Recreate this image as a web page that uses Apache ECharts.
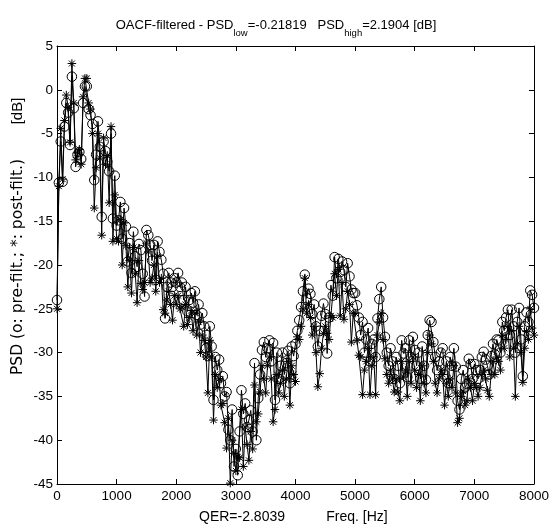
<!DOCTYPE html>
<html>
<head>
<meta charset="utf-8">
<script src="https://cdn.jsdelivr.net/npm/echarts@6/dist/echarts.min.js"></script>
<style>
html,body{margin:0;padding:0;background:#fff;}
#chart{width:552px;height:526px;}
</style>
</head>
<body>
<div id="chart"></div>
<script>
// Frequency bins (Hz): first bin and spacing (257 bins, 0..8000 Hz)
const binStart = 0;
const binStep = 31.25;
// PSD pre-filter (circles), dB — 16 values per 500 Hz
const psdPre = [
 -24, -10.6, -5.9, -10.5, -4.2, -1.5, -2.6, -6.3, 1.5, -2.1, -8.8, -7.4, -7.1, -7.9, -1.5, 0.4,
 0.4, -2.2, -2.9, -3.9, -10.3, -7.4, -3.6, -6.5, -14.5, -5.9, -7.0, -8.2, -9.3, -5.0, -14.7, -9.8,
 -15.5, -14.9, -12.8, -17.0, -13.5, -15.6, -19.6, -17.5, -20.9, -16.2, -19.0, -20.2, -17.6, -18.3, -21.0, -23.6,
 -16.0, -16.6, -17.7, -19.5, -17.7, -21.7, -17.3, -18.5, -19.4, -21.0, -26.1, -22.5, -20.9, -22.0, -22.5, -21.5,
 -22.0, -20.9, -22.5, -22.0, -24.0, -22.5, -25.3, -24.0, -23.2, -24.3, -23.0, -25.7, -24.5, -26.8, -25.5, -27.0,
 -29.5, -30.4, -27.0, -29.3, -35.4, -30.5, -32.0, -30.8, -33.5, -32.7, -35.0, -34.5, -38.8, -40.0, -36.5, -43.0,
 -41.0, -44.0, -39.0, -34.3, -37.0, -35.8, -38.5, -37.7, -36.6, -39.0, -31.2, -40.0, -35.2, -32.5, -29.7, -28.8,
 -30.5, -29.5, -28.6, -31.0, -28.9, -35.4, -30.0, -33.0, -31.5, -30.0, -32.5, -31.2, -29.8, -33.5, -29.3, -30.4,
 -29.0, -27.5, -26.3, -24.8, -23.0, -21.1, -23.8, -22.7, -23.3, -25.6, -24.5, -27.0, -29.3, -27.5, -25.8, -24.4,
 -25.6, -30.1, -26.0, -22.3, -23.5, -19.1, -21.5, -19.3, -20.8, -19.6, -20.6, -22.5, -19.8, -21.3, -22.8, -23.2,
 -23.2, -24.6, -26.0, -28.0, -26.5, -30.0, -28.5, -27.2, -31.0, -29.0, -28.5, -30.5, -26.1, -23.9, -22.5, -26.0,
 -28.2, -30.0, -31.5, -29.5, -31.0, -33.0, -30.5, -31.5, -33.5, -28.6, -30.1, -29.5, -32.8, -28.6, -30.5, -28.2,
 -29.7, -31.5, -30.0, -33.0, -29.3, -31.5, -33.1, -28.0, -26.3, -26.5, -28.8, -30.5, -32.0, -31.0, -30.0, -29.5,
 -32.5, -31.0, -33.5, -30.5, -31.5, -29.5, -31.6, -35.5, -36.5, -33.0, -32.0, -34.0, -33.6, -30.7, -31.3, -33.0,
 -31.3, -32.0, -33.0, -32.0, -30.5, -29.9, -30.8, -31.5, -32.5, -30.4, -29.0, -30.2, -28.5, -28.6, -30.0, -26.5,
 -27.5, -26.0, -25.1, -28.0, -25.1, -27.0, -30.0, -26.5, -24.9, -28.5, -32.7, -27.0, -25.4, -26.5, -22.9, -23.4,
 -24.9
];
// PSD post-filter (asterisks), dB — 16 values per 500 Hz
const psdPost = [
 -25, -11, -4.4, -10.2, -3.5, -0.6, -2.0, -6.0, 3.0, -1.5, -8.0, -7.2, -6.8, -8.5, -0.8, 1.3,
 1.3, -1.5, -2.2, -5.0, -13.5, -8.9, -5.0, -7.8, -16.6, -5.5, -8.5, -7.5, -12.9, -4.2, -17.3, -12.0,
 -17.0, -17.3, -14.8, -20.0, -15.2, -17.8, -22.5, -19.5, -23.2, -18.0, -21.0, -24.3, -19.5, -22.1, -22.8, -22.0,
 -17.5, -18.5, -22.0, -21.5, -20.0, -23.0, -19.0, -22.0, -21.5, -25.1, -25.5, -24.0, -23.0, -24.5, -26.3, -23.5,
 -24.5, -23.5, -25.0, -24.8, -27.0, -24.5, -26.8, -26.0, -25.2, -27.5, -25.5, -28.0, -26.5, -30.0, -28.0, -28.6,
 -30.5, -34.6, -28.6, -30.5, -37.7, -32.5, -34.0, -33.0, -36.0, -35.8, -38.0, -40.9, -37.5, -44.9, -40.0, -41.5,
 -43.5, -41.9, -42.0, -36.5, -43.0, -38.5, -40.5, -42.3, -39.0, -41.0, -33.7, -37.9, -37.0, -34.5, -31.5, -33.0,
 -34.6, -31.5, -30.5, -33.0, -37.9, -36.5, -32.5, -34.6, -33.5, -32.0, -35.0, -33.0, -31.0, -36.0, -31.5, -32.5,
 -33.3, -28.2, -28.5, -27.0, -25.0, -21.5, -25.5, -24.5, -26.0, -28.0, -27.0, -30.0, -33.9, -32.4, -29.5, -27.8,
 -27.0, -27.8, -28.5, -25.8, -26.0, -21.0, -23.5, -20.5, -25.8, -22.0, -26.2, -25.0, -23.0, -24.5, -28.8, -25.5,
 -25.5, -28.6, -30.3, -30.5, -34.8, -32.0, -31.0, -29.5, -34.8, -31.5, -30.5, -34.8, -28.0, -26.5, -25.5, -28.5,
 -30.7, -32.5, -33.5, -32.0, -33.0, -34.5, -33.0, -34.5, -35.5, -31.0, -32.8, -32.0, -35.0, -31.0, -33.5, -30.5,
 -32.0, -34.0, -32.5, -35.5, -31.5, -33.5, -34.6, -30.0, -28.0, -29.0, -31.0, -33.5, -34.6, -33.0, -32.0, -32.5,
 -36.0, -33.5, -35.0, -33.0, -34.0, -31.5, -34.6, -38.0, -37.5, -35.0, -34.4, -36.0, -35.5, -33.0, -34.0, -35.5,
 -33.5, -34.0, -35.0, -34.0, -32.5, -32.0, -33.0, -34.3, -35.0, -32.5, -31.0, -32.5, -30.5, -31.0, -32.0, -28.0,
 -29.5, -28.5, -27.0, -30.5, -27.5, -29.5, -35.0, -29.0, -27.0, -30.0, -33.4, -29.5, -27.6, -28.5, -25.0, -27.2,
 -28.0
];
// Axis ticks
const xMin = 0, xMax = 8000, xStep = 1000;
const yMin = -45, yMax = 5, yStep = 5;
// Texts
const titleMain1 = 'OACF-filtered - PSD';
const titleSub1 = 'low';
const titleMain2 = '=-0.21819   PSD';
const titleSub2 = 'high';
const titleMain3 = '=2.1904 [dB]';
const yLabel = 'PSD (o: pre-filt.; *: post-filt.)';
const yUnit = '[dB]';
const xLabelQER = 'QER=-2.8039';
const xLabelFreq = 'Freq. [Hz]';

const FONT = '"Liberation Sans", Arial, sans-serif';
const preData = psdPre.map((v, i) => [binStart + i * binStep, v]);
const postData = psdPost.map((v, i) => [binStart + i * binStep, v]);

const asterisk = 'path://M5,0L5,10M0,5L10,5M1.5,1.5L8.5,8.5M1.5,8.5L8.5,1.5';

const axisCommon = {
  type: 'value',
  axisLine: {show: true, onZero: false, lineStyle: {color: '#000', width: 1}},
  axisTick: {show: true, inside: true, length: 5, lineStyle: {color: '#000', width: 1}},
  splitLine: {show: false},
  axisLabel: {color: '#000', fontSize: 13.5, fontFamily: FONT, formatter: v => String(v)}
};

const chart = echarts.init(document.getElementById('chart'), null, {renderer: 'canvas'});
chart.setOption({
  backgroundColor: '#fff',
  animation: false,
  title: {
    left: 271, top: 12, textAlign: 'center',
    text: '{a|' + titleMain1 + '}{s|' + titleSub1 + '}{a|' + titleMain2 + '}{s|' + titleSub2 + '}{a|' + titleMain3 + '}',
    textStyle: {
      fontWeight: 'normal',
      rich: {
        a: {fontSize: 13, fontFamily: FONT, fontWeight: 'normal', color: '#000', lineHeight: 22, verticalAlign: 'top', padding: [2, 0, 0, 0]},
        s: {fontSize: 9.5, fontFamily: FONT, fontWeight: 'normal', color: '#000', lineHeight: 22, verticalAlign: 'top', padding: [11, 0, 0, 0]}
      }
    }
  },
  grid: {left: 57, right: 18, top: 46, bottom: 42, containLabel: false},
  xAxis: [
    Object.assign({}, axisCommon, {position: 'bottom', min: xMin, max: xMax, interval: xStep,
      axisLabel: Object.assign({}, axisCommon.axisLabel, {margin: 5})}),
    Object.assign({}, axisCommon, {position: 'top', min: xMin, max: xMax, interval: xStep,
      axisLabel: {show: false}})
  ],
  yAxis: [
    Object.assign({}, axisCommon, {position: 'left', min: yMin, max: yMax, interval: yStep,
      axisLabel: Object.assign({}, axisCommon.axisLabel, {margin: 4})}),
    Object.assign({}, axisCommon, {position: 'right', min: yMin, max: yMax, interval: yStep,
      axisLabel: {show: false}})
  ],
  series: [
    {
      name: 'pre', type: 'line', xAxisIndex: 0, yAxisIndex: 0, data: preData,
      symbol: 'circle', symbolSize: 9.5, showAllSymbol: true,
      lineStyle: {color: '#000', width: 1},
      itemStyle: {color: 'rgba(0,0,0,0)', borderColor: '#000', borderWidth: 1},
      z: 2
    },
    {
      name: 'post', type: 'line', xAxisIndex: 0, yAxisIndex: 0, data: postData,
      symbol: asterisk, symbolSize: 8.5, showAllSymbol: true,
      lineStyle: {color: '#000', width: 1},
      itemStyle: {color: 'rgba(0,0,0,0)', borderColor: '#000', borderWidth: 1},
      z: 3
    }
  ],
  graphic: [
    {type: 'text', x: 18, y: 267, rotation: Math.PI / 2,
      style: {text: yLabel, fill: '#000', font: '15.5px "DejaVu Sans", sans-serif', textAlign: 'center', textVerticalAlign: 'middle'}},
    {type: 'text', x: 18, y: 111, rotation: Math.PI / 2,
      style: {text: yUnit, fill: '#000', font: '15px ' + FONT, textAlign: 'center', textVerticalAlign: 'middle'}},
    {type: 'text', x: 242, y: 510,
      style: {text: xLabelQER, fill: '#000', font: '14px ' + FONT, textAlign: 'center', textVerticalAlign: 'top'}},
    {type: 'text', x: 357, y: 510,
      style: {text: xLabelFreq, fill: '#000', font: '14px ' + FONT, textAlign: 'center', textVerticalAlign: 'top'}}
  ]
});
</script>
</body>
</html>
